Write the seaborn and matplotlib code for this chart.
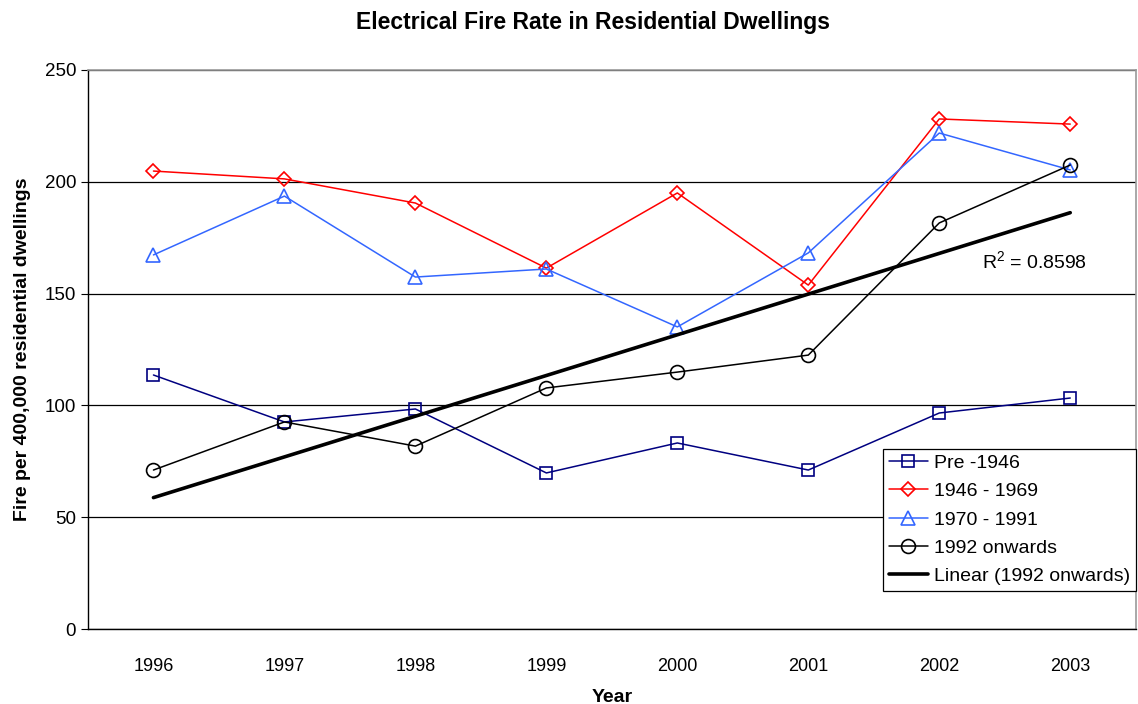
import numpy as np
import pandas as pd
import matplotlib
matplotlib.use("Agg")
import matplotlib.pyplot as plt
import seaborn as sns

# data
years = [1996, 1997, 1998, 1999, 2000, 2001, 2002, 2003]
pre_1946 = [113.6, 92.6, 98.4, 69.8, 83.2, 71.1, 96.6, 103.3]
y1946_1969 = [204.8, 201.3, 190.5, 161.4, 195.0, 153.8, 228.1, 225.8]
y1970_1991 = [167.3, 193.6, 157.4, 161.0, 135.1, 168.2, 221.8, 205.3]
y1992_on = [71.1, 92.6, 81.8, 107.8, 114.9, 122.5, 181.6, 207.5]
r2_text = "R$^2$ = 0.8598"

df = pd.DataFrame({"Year": years, "Pre -1946": pre_1946, "1946 - 1969": y1946_1969,
                   "1970 - 1991": y1970_1991, "1992 onwards": y1992_on})

sns.set_style("white")
plt.rcParams['font.family'] = ['Liberation Sans', 'DejaVu Sans']
plt.rcParams['mathtext.default'] = 'regular'
plt.rcParams['text.color'] = 'black'
plt.rcParams['axes.labelcolor'] = 'black'
plt.rcParams['xtick.color'] = 'black'
plt.rcParams['ytick.color'] = 'black'

fig = plt.figure(figsize=(11.38, 7.04), dpi=100)
ax = fig.add_axes([0.0773, 0.1065, 0.9207, 0.7941])

styles = [
    ("Pre -1946", "#000080", "s", 9),
    ("1946 - 1969", "#FF0000", "D", 7),
    ("1970 - 1991", "#3366FF", "^", 10),
    ("1992 onwards", "black", "o", 10),
]
for name, col, mk, ms in styles:
    sns.lineplot(data=df, x="Year", y=name, ax=ax, color=col, marker=mk,
                 markersize=ms, markerfacecolor="none", markeredgecolor=col,
                 markeredgewidth=1.2, linewidth=1.1, label=name)

# linear trend on 1992 onwards
sns.regplot(data=df, x="Year", y="1992 onwards", ax=ax, scatter=False, ci=None,
            truncate=True, color="black", line_kws={"linewidth": 2.6},
            label="Linear (1992 onwards)")

ax.text(2002.73, 164.6, r2_text, ha="center", va="center", fontsize=14)

ax.set_xlim(1995.5, 2003.5)
ax.set_ylim(0, 250)
ax.set_yticks(range(0, 251, 50))
ax.set_xticks(years)
ax.set_xticks(np.arange(1995.5, 2004, 1), minor=True)
ax.tick_params(axis="x", which="major", length=0, pad=21, labelsize=13)
ax.tick_params(axis="x", which="minor", length=6, width=0.8, direction="out", color="black")
ax.tick_params(axis="y", length=5, width=0.8, direction="out", color="black", labelsize=13.5, left=True)
ax.yaxis.grid(True, color="black", linewidth=0.9)
ax.set_axisbelow(True)

for s in ["left", "bottom"]:
    ax.spines[s].set_color("black")
    ax.spines[s].set_linewidth(1.0)
for s in ["right", "top"]:
    ax.spines[s].set_color("#999999")
    ax.spines[s].set_linewidth(1.2)

ax.set_xlabel("Year", fontsize=14, fontweight="bold", labelpad=10)
ax.set_ylabel("Fire per 400,000 residential dwellings", fontsize=14, fontweight="bold", labelpad=10)
fig.suptitle("Electrical Fire Rate in Residential Dwellings", fontsize=16.5,
             fontweight="bold", x=0.521, y=0.985)

leg = ax.legend(loc="lower right", bbox_to_anchor=(1.0, 0.068), fontsize=14,
                frameon=True, fancybox=False, edgecolor="black", framealpha=1,
                borderpad=0.3, labelspacing=0.55, handlelength=2.0, handletextpad=0.3,
                borderaxespad=0)
leg.get_frame().set_linewidth(0.9)

fig.savefig("out.png", dpi=100)
